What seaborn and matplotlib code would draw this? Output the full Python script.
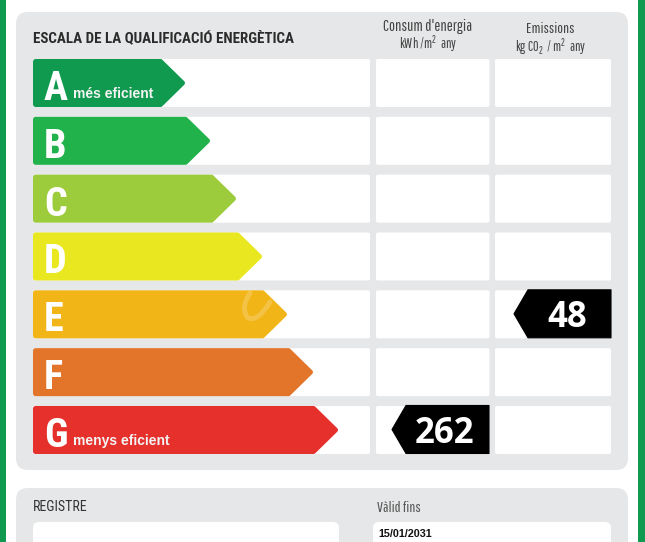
import matplotlib
matplotlib.use('Agg')
import matplotlib.pyplot as plt
from matplotlib.patches import FancyBboxPatch, PathPatch, Polygon, Rectangle
from matplotlib.path import Path
import seaborn as sns

# etiquetes i valors
classes = ['A', 'B', 'C', 'D', 'E', 'F', 'G']
arrow_ends = [152, 177, 203, 229, 254, 280, 305]
class_colors = ['#0f9a50', '#22b24c', '#9ccb3b', '#e9e71f', '#f2b518', '#e2752a', '#e5302c']
class_notes = {'A': 'més eficient', 'G': 'menys eficient'}
consum_class = 'G'
consum_value = 262
emissions_class = 'E'
emissions_value = 48

title = 'ESCALA DE LA QUALIFICACIÓ ENERGÈTICA'
consum_head = "Consum d'energia"
consum_unit = 'kWh /m$^2$  any'
emissions_head = 'Emissions'
emissions_unit = 'kg CO$_2$  / m$^2$  any'
register_label = 'REGISTRE'
valid_label = 'Vàlid fins'
valid_date = '15/01/2031'

THIN_FONT = ['Pathway Gothic One', 'Liberation Sans']
COND_FONT = ['Roboto Condensed', 'Liberation Sans']
GREY = '#e6e7e8'
ROW_H = 48
ROW_STEP = 57.83
ROW0 = 83

sns.set_theme(style='white')
plt.rcParams['mathtext.fontset'] = 'custom'
plt.rcParams['mathtext.rm'] = 'Pathway Gothic One'
plt.rcParams['mathtext.default'] = 'regular'

fig = plt.figure(figsize=(6.45, 5.42), dpi=100, facecolor='white')

# fons en coordenades de píxel
bg = fig.add_axes([0, 0, 1, 1])
bg.set_xlim(0, 645)
bg.set_ylim(542, 0)
bg.axis('off')


def rounded(ax, x0, y0, x1, y1, r, color, z=1):
    ax.add_patch(FancyBboxPatch((x0 + r, y0 + r), x1 - x0 - 2 * r, y1 - y0 - 2 * r,
                                boxstyle=f'round,pad={r},rounding_size={r}',
                                fc=color, ec='none', zorder=z))


bg.add_patch(Rectangle((0, 0), 6, 542, fc='#0f9a50', ec='none'))
bg.add_patch(Rectangle((638, 0), 7, 542, fc='#0f9a50', ec='none'))
rounded(bg, 16, 12, 628, 470, 12, GREY)
rounded(bg, 16, 488, 628, 570, 12, GREY)

for i in range(len(classes)):
    yc = ROW0 + i * ROW_STEP
    top, bottom = yc - ROW_H / 2, yc + ROW_H / 2
    rounded(bg, 33, top, 370, bottom, 2, 'white', 2)
    rounded(bg, 376, top, 489.5, bottom, 2, 'white', 2)
    rounded(bg, 495, top, 611, bottom, 2, 'white', 2)

rounded(bg, 33, 522, 339, 570, 6, 'white', 2)
rounded(bg, 373, 522, 611, 570, 6, 'white', 2)

bg.text(33, 37.5, title, family=COND_FONT, weight='bold', fontsize=10.8, color='#2b2b2b', va='center', ha='left')
bg.text(427.5, 26, consum_head, family=THIN_FONT, fontsize=11.6, color='#444444', ha='center', va='center')
bg.text(428, 44, consum_unit, family=THIN_FONT, fontsize=10, color='#444444', ha='center', va='center')
bg.text(550, 29, emissions_head, family=THIN_FONT, fontsize=11, color='#444444', ha='center', va='center')
bg.text(551, 47, emissions_unit, family=THIN_FONT, fontsize=10, color='#444444', ha='center', va='center')
bg.text(33, 507, register_label, family=COND_FONT, fontsize=10, color='#333333', va='center')
bg.text(377, 508, valid_label, family=THIN_FONT, fontsize=11, color='#555555', va='center')
bg.text(378, 534, valid_date, family='Liberation Sans', weight='bold', fontsize=7.8, color='#111111', va='center')

# barres de classe: la x és la longitud des de l'inici de la barra
ax = fig.add_axes([0, 0, 1, 1], facecolor='none')
df = {'classe': classes, 'fi': arrow_ends}
sns.barplot(data=df, y='classe', x='fi', hue='classe', palette=class_colors,
            order=classes, hue_order=classes, legend=False, width=ROW_H / ROW_STEP,
            saturation=1, ax=ax, zorder=3)
ax.set_xlim(-33, 612)
ax.set_ylim((542 - ROW0) / ROW_STEP, -ROW0 / ROW_STEP)
ax.axis('off')
PX = 1 / ROW_STEP


def arrow(x0, y0, x1, y1, color):
    # punta cap a la dreta, cantonades arrodonides amb la vora
    r = 2.5
    d = r * PX
    ym = (y0 + y1) / 2
    pts = [(x0 + r, y0 + d), (x1 - 24.5, y0 + d), (x1 - r, ym),
           (x1 - 24.5, y1 - d), (x0 + r, y1 - d)]
    ax.add_patch(Polygon(pts, closed=True, fc=color, ec=color, lw=2 * r * 0.72, joinstyle='round', zorder=4))


for bar, name, color in zip(ax.patches, classes, class_colors):
    x0, y0 = bar.get_x(), bar.get_y()
    w, h = bar.get_width(), bar.get_height()
    bar.set_visible(False)
    arrow(x0, y0, x0 + w, y0 + h, color)
    i = classes.index(name)
    ax.text(x0 + 11, i + 17 * PX, name, family=COND_FONT, weight='bold', fontsize=29, color='white',
            ha='left', va='baseline', zorder=5)
    if name in class_notes:
        ax.text(x0 + 40, i + 15.5 * PX, class_notes[name], family='Liberation Sans', weight='bold',
                fontsize=10, color='#f4f4f4', ha='left', va='baseline', zorder=5)

# marca d'aigua tènue sobre la barra E
mark = Path([(250, 293), (240, 308), (248, 318), (258, 322), (270, 302)],
            [Path.MOVETO, Path.CURVE3, Path.CURVE3, Path.CURVE3, Path.CURVE3])
bg2 = fig.add_axes([0, 0, 1, 1], facecolor='none')
bg2.set_xlim(0, 645)
bg2.set_ylim(542, 0)
bg2.axis('off')
bg2.add_patch(PathPatch(mark, fc='none', ec='white', lw=3.5, alpha=0.2, capstyle='round'))


def value_tag(name, right, value):
    i = classes.index(name)
    h = ROW_H / 2 * PX
    mid = i - 0.5 * PX
    left = right - 97
    pts = [(left + 14, mid - h), (right, mid - h), (right, mid + h), (left + 14, mid + h), (left, mid)]
    ax.add_patch(Polygon(pts, closed=True, fc='black', ec='black', lw=0.8, joinstyle='round', zorder=4))
    ax.text(left + 53, i + 4 * PX, str(value), family='Open Sans', weight='bold', fontsize=25,
            color='white', ha='center', va='center', zorder=5)


value_tag(consum_class, 489 - 33, consum_value)
value_tag(emissions_class, 611 - 33, emissions_value)

fig.savefig('out.png', dpi=100)
